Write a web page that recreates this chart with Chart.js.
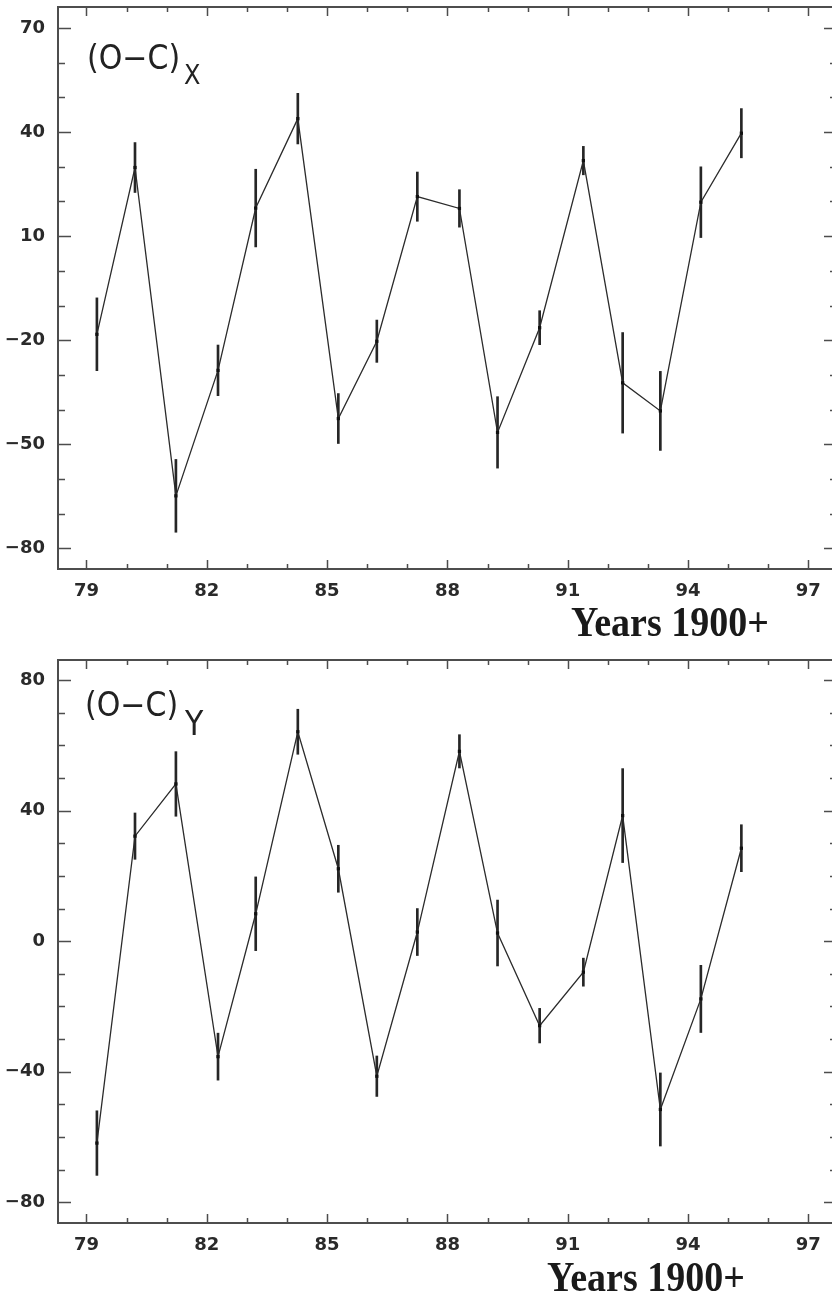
<!DOCTYPE html>
<html>
<head>
<meta charset="utf-8">
<script src="https://cdn.jsdelivr.net/npm/chart.js@4.4.0/dist/chart.umd.min.js"></script>
<style>
  body { margin: 0; background: #fff; overflow: hidden; width: 833px; height: 1295px; position: relative; }
  canvas { position: absolute; left: 0; }
  .lbl { position: absolute; line-height: 1; white-space: nowrap; color: #222; transform-origin: left top; }
  .oc { font-family: "DejaVu Sans", sans-serif; font-size: 30px; transform: scaleY(1.1); }
  .sub { font-family: "DejaVu Sans", sans-serif; font-size: 24px; transform: scaleY(1.1); }
  .yrs { font-family: "Liberation Serif", serif; font-weight: bold; font-size: 38px; color: #1a1a1a; transform: scaleY(1.1); }
</style>
</head>
<body>
<canvas id="chartX" width="836" height="604" style="top:0px"></canvas>
<canvas id="chartY" width="836" height="618" style="top:640px"></canvas>

<div class="lbl oc" style="left:87px;top:41px">(O&minus;C)</div>
<div class="lbl sub" style="left:184px;top:62px">X</div>
<div class="lbl yrs" style="left:571px;top:601px">Years 1900+</div>

<div class="lbl oc" style="left:85px;top:688px">(O&minus;C)</div>
<div class="lbl oc" style="left:185px;top:707px">Y</div>
<div class="lbl yrs" style="left:547px;top:1256px">Years 1900+</div>

<script>
// epochs (years since 1900)
const years = [79.26, 80.21, 81.23, 82.28, 83.22, 84.27, 85.28, 86.24, 87.25,
               88.30, 89.25, 90.30, 91.39, 92.37, 93.31, 94.32, 95.33];

// (O-C)x residuals and their errors
const ocX  = [-18.3, 29.8, -64.9, -28.7, 18.1, 43.9, -42.6, -20.3, 21.4,
              18.0, -46.6, -16.4, 31.8, -32.3, -40.4, 19.8, 39.7];
const errX = [10.5, 7.2, 10.5, 7.3, 11.2, 7.3, 7.2, 6.1, 7.1,
              5.4, 10.3, 4.9, 4.1, 14.5, 11.4, 10.2, 7.1];

// (O-C)y residuals and their errors
const ocY  = [-61.9, 32.2, 48.2, -35.4, 8.4, 64.2, 22.2, -41.4, 2.8,
              58.2, 2.5, -25.9, -9.5, 38.5, -51.6, -17.7, 28.5];
const errY = [9.9, 7.1, 9.9, 7.2, 11.3, 6.9, 7.2, 6.2, 7.2,
              5.1, 10.1, 5.3, 4.3, 14.4, 11.2, 10.3, 7.2];

// labelled ticks
const xTickLabels  = [79, 82, 85, 88, 91, 94, 97];
const yTickLabelsX = [-80, -50, -20, 10, 40, 70];
const yTickLabelsY = [-80, -40, 0, 40, 80];

const tickFont = { family: 'DejaVu Sans', size: 18, weight: 'bold' };
const axisColor = '#4d4d4d';

function fmt(v) {
  return v < 0 ? '\u2212' + Math.abs(v) : String(v);
}

// frame + inward tick marks on all four sides
const frameTicks = {
  id: 'frameTicks',
  afterDraw(chart) {
    const { ctx, chartArea: a, scales } = chart;
    ctx.save();
    ctx.strokeStyle = axisColor;
    ctx.lineWidth = 2;
    ctx.beginPath();
    ctx.moveTo(a.right, a.top);
    ctx.lineTo(a.left, a.top);
    ctx.lineTo(a.left, a.bottom);
    ctx.lineTo(a.right, a.bottom);
    ctx.stroke();

    ctx.lineWidth = 1.5;
    ctx.beginPath();
    scales.x.ticks.forEach(t => {
      const px = Math.round(scales.x.getPixelForValue(t.value)) + 0.5;
      const len = t.label ? 9 : 5;
      ctx.moveTo(px, a.bottom);
      ctx.lineTo(px, a.bottom - len);
      ctx.moveTo(px, a.top);
      ctx.lineTo(px, a.top + len);
    });
    scales.y.ticks.forEach(t => {
      const py = Math.round(scales.y.getPixelForValue(t.value)) + 0.5;
      const len = t.label ? 13 : 7;
      ctx.moveTo(a.left, py);
      ctx.lineTo(a.left + len, py);
      const rl = t.label ? 8 : 2;
      ctx.moveTo(a.right, py);
      ctx.lineTo(a.right - rl, py);
    });
    ctx.stroke();
    ctx.restore();
  }
};

function makeChart(id, values, errs, yMin, yMax, yLabels, padTop) {
  const points = years.map((x, i) => ({ x: x, y: values[i] }));
  const bars = years.map((x, i) => ({ x: x, y: [values[i] - errs[i], values[i] + errs[i]] }));
  return new Chart(document.getElementById(id), {
    type: 'line',
    data: {
      datasets: [{
        type: 'line',
        data: points,
        borderColor: '#2b2b2b',
        borderWidth: 1.3,
        pointStyle: 'rect',
        pointRadius: 2.3,
        pointBackgroundColor: '#111',
        pointBorderColor: '#111',
        pointBorderWidth: 0,
        tension: 0,
        order: 1
      }, {
        type: 'bar',
        data: bars,
        backgroundColor: '#262626',
        borderWidth: 0,
        barThickness: 2,
        order: 2
      }]
    },
    options: {
      responsive: false,
      animation: false,
      layout: { padding: { top: padTop, right: 2, left: 0, bottom: 0 } },
      plugins: { legend: { display: false }, tooltip: { enabled: false } },
      scales: {
        x: {
          type: 'linear',
          min: 78.29,
          max: 97.59,
          offset: false,
          grid: { display: false, drawTicks: false },
          border: { display: false },
          afterFit(scale) {
            scale.height = 35;
            scale.paddingLeft = 0;
            scale.paddingRight = 0;
          },
          ticks: {
            stepSize: 1,
            includeBounds: false,
            autoSkip: false,
            maxRotation: 0,
            padding: 12,
            color: '#2a2a2a',
            font: tickFont,
            callback: v => xTickLabels.includes(v) ? String(v) : ''
          }
        },
        y: {
          type: 'linear',
          min: yMin,
          max: yMax,
          grid: { display: false, drawTicks: false },
          border: { display: false },
          afterFit(scale) {
            scale.width = 58;
            scale.paddingTop = 0;
            scale.paddingBottom = 0;
          },
          ticks: {
            stepSize: 10,
            includeBounds: false,
            autoSkip: false,
            padding: 13,
            color: '#2a2a2a',
            font: tickFont,
            callback: v => yLabels.includes(v) ? fmt(v) : ''
          }
        }
      }
    },
    plugins: [frameTicks]
  });
}

makeChart('chartX', ocX, errX, -86, 76.1, yTickLabelsX, 7);
makeChart('chartY', ocY, errY, -86.4, 86.2, yTickLabelsY, 20);
</script>
</body>
</html>
